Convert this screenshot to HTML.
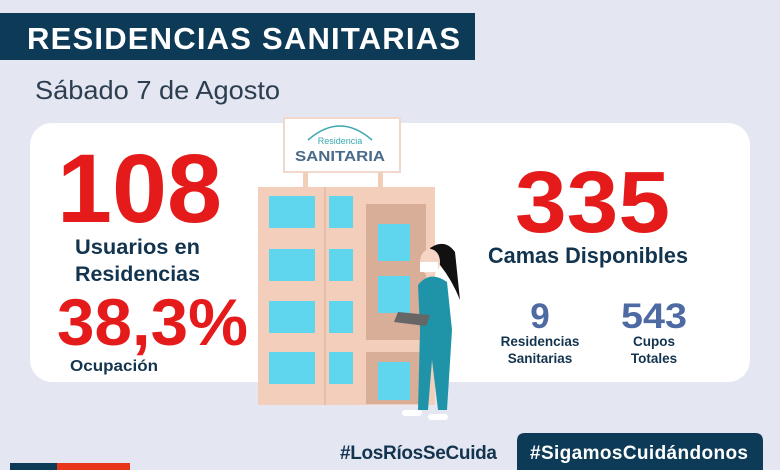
<!DOCTYPE html>
<html><head><meta charset="utf-8"><style>
html,body{margin:0;padding:0;background:#e4e6f2;}
svg{display:block}
text{font-family:"Liberation Sans",sans-serif;}
</style></head><body>
<svg width="780" height="470" viewBox="0 0 780 470" xmlns="http://www.w3.org/2000/svg">
<rect width="780" height="470" fill="#e4e6f2"/>
<rect x="0" y="13" width="475" height="47" fill="#0d3a57"/>
<text x="27" y="49" font-size="31" font-weight="bold" fill="#fff" textLength="433" lengthAdjust="spacing">RESIDENCIAS SANITARIAS</text>
<text x="35" y="99" font-size="26" fill="#2c3e50" textLength="245" lengthAdjust="spacingAndGlyphs">Sábado 7 de Agosto</text>
<rect x="30" y="123" width="720" height="259" rx="22" fill="#fff"/>
<text x="57" y="222" font-size="97" font-weight="bold" fill="#e51a1a" textLength="165" lengthAdjust="spacingAndGlyphs">108</text>
<text x="75" y="254" font-size="21" font-weight="bold" fill="#13344f" textLength="125" lengthAdjust="spacingAndGlyphs">Usuarios en</text>
<text x="75" y="281" font-size="21" font-weight="bold" fill="#13344f" textLength="125" lengthAdjust="spacingAndGlyphs">Residencias</text>
<text x="57" y="345" font-size="66" font-weight="bold" fill="#e51a1a" textLength="191" lengthAdjust="spacingAndGlyphs">38,3%</text>
<text x="70" y="371" font-size="16" font-weight="bold" fill="#13344f" textLength="88" lengthAdjust="spacingAndGlyphs">Ocupación</text>
<text x="515" y="232" font-size="87" font-weight="bold" fill="#e51a1a" textLength="155" lengthAdjust="spacingAndGlyphs">335</text>
<text x="488" y="263" font-size="22" font-weight="bold" fill="#13344f" textLength="200" lengthAdjust="spacingAndGlyphs">Camas Disponibles</text>
<text x="540" y="328" font-size="35" font-weight="bold" fill="#4e6aa3" text-anchor="middle">9</text>
<text x="654" y="328" font-size="35" font-weight="bold" fill="#4e6aa3" text-anchor="middle" textLength="66" lengthAdjust="spacingAndGlyphs">543</text>
<text x="540" y="346" font-size="13.5" font-weight="bold" fill="#13344f" text-anchor="middle">Residencias</text>
<text x="540" y="363" font-size="13.5" font-weight="bold" fill="#13344f" text-anchor="middle">Sanitarias</text>
<text x="654" y="346" font-size="13.5" font-weight="bold" fill="#13344f" text-anchor="middle">Cupos</text>
<text x="654" y="363" font-size="13.5" font-weight="bold" fill="#13344f" text-anchor="middle">Totales</text>
<!-- sign -->
<rect x="284" y="118" width="116" height="54" fill="#fff" stroke="#f0d9cc" stroke-width="2"/>
<path d="M308 140 Q340 112 372 140" fill="none" stroke="#3aa7b0" stroke-width="1.5"/>
<text x="340" y="144" font-size="9" fill="#3aa7b0" text-anchor="middle">Residencia</text>
<text x="340" y="161" font-size="15" font-weight="bold" fill="#4a6a8a" text-anchor="middle" textLength="90" lengthAdjust="spacingAndGlyphs">SANITARIA</text>
<rect x="303" y="172" width="5" height="15" fill="#f2cdb8"/><rect x="378" y="172" width="5" height="15" fill="#f2cdb8"/>
<!-- building -->
<rect x="258" y="187" width="177" height="218" fill="#f3cfbb"/>
<rect x="365" y="200" width="70" height="14" fill="#f3cfbb"/>
<rect x="366" y="204" width="60" height="200" fill="#d8ae99"/>
<rect x="366" y="340" width="60" height="12" fill="#f3cfbb"/>
<line x1="325" y1="187" x2="325" y2="405" stroke="#e9bea8" stroke-width="2"/>
<g fill="#5fd6ee">
<rect x="269" y="196" width="46" height="32"/><rect x="329" y="196" width="24" height="32"/>
<rect x="269" y="249" width="46" height="32"/><rect x="329" y="249" width="24" height="32"/>
<rect x="269" y="301" width="46" height="32"/><rect x="329" y="301" width="24" height="32"/>
<rect x="269" y="352" width="46" height="32"/><rect x="329" y="352" width="24" height="32"/>
<rect x="378" y="224" width="32" height="37"/><rect x="378" y="276" width="32" height="37"/><rect x="378" y="362" width="32" height="38"/>
</g>
<!-- nurse -->
<path d="M430 248 Q445 238 455 252 L460 300 Q452 280 440 265 Z" fill="#111"/>
<ellipse cx="430" cy="262" rx="10" ry="13" fill="#f5d6c6"/>
<rect x="420" y="262" width="18" height="10" fill="#fff"/>
<path d="M418 285 Q430 270 447 282 L452 330 L447 410 L438 410 L432 360 L428 410 L418 410 L420 330 Z" fill="#1f93a8"/>
<path d="M398 312 L430 315 L426 326 L394 322 Z" fill="#666"/>
<rect x="402" y="410" width="20" height="6" rx="3" fill="#fff"/><rect x="428" y="414" width="20" height="6" rx="3" fill="#fff"/>
<!-- bottom -->
<text x="340" y="459" font-size="19" font-weight="bold" fill="#13344f" textLength="157" lengthAdjust="spacing">#LosRíosSeCuida</text>
<path d="M517 470 L517 441 Q517 433 525 433 L755 433 Q763 433 763 441 L763 470 Z" fill="#0d3a57"/>
<text x="530" y="459" font-size="19" font-weight="bold" fill="#fff" textLength="218" lengthAdjust="spacing">#SigamosCuidándonos</text>
<rect x="10" y="463" width="120" height="7" fill="#e8361a"/>
<rect x="10" y="463" width="47" height="7" fill="#0d3a57"/>
</svg>
</body></html>
